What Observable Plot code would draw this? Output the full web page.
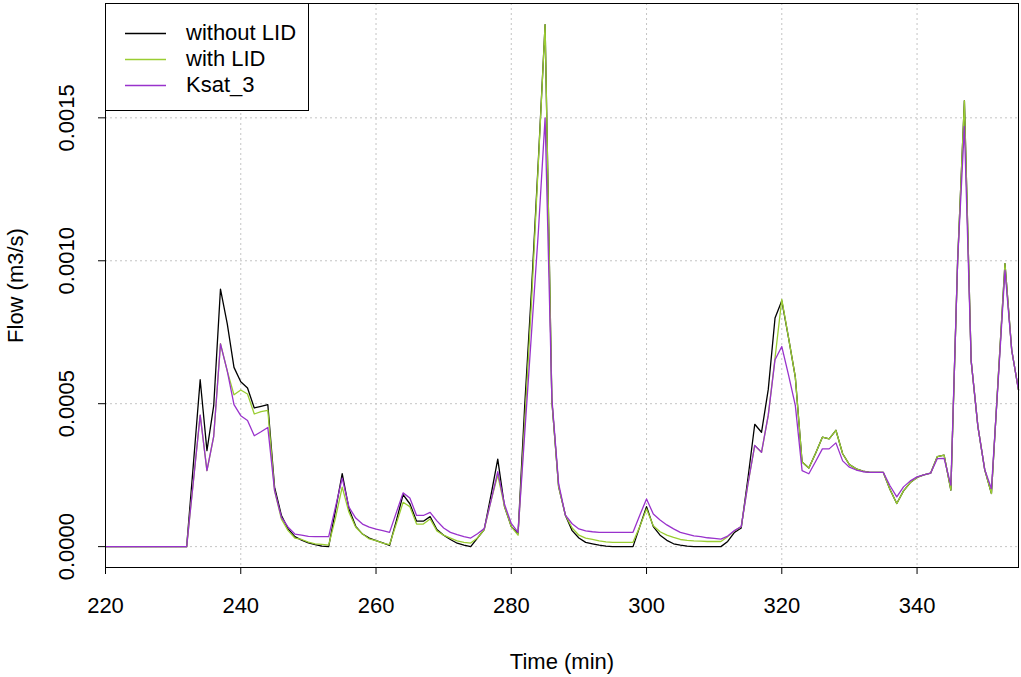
<!DOCTYPE html>
<html><head><meta charset="utf-8">
<script src="https://cdn.jsdelivr.net/npm/d3@7"></script>
<script src="https://cdn.jsdelivr.net/npm/@observablehq/plot@0.6"></script>
<style>
body{margin:0;background:#fff;font-family:"Liberation Sans",Arial,sans-serif;}
#wrap{position:relative;width:1021px;height:677px;}
#legend{position:absolute;left:105px;top:3px;width:204px;height:108px;border:1px solid #000;background:#fff;box-sizing:border-box;font-size:22px;}
.row{position:absolute;left:0;height:22px;width:100%;}
.row svg{position:absolute;left:19px;top:0;}
.row .lb{position:absolute;left:80px;top:0;line-height:22px;white-space:nowrap;color:#000;}
</style></head>
<body><div id="wrap"></div>
<script>
const time = [220,221,222,223,224,225,226,227,228,229,230,231,232,233,234,235,236,237,238,239,240,241,242,243,244,245,246,247,248,249,250,251,252,253,254,255,256,257,258,259,260,261,262,263,264,265,266,267,268,269,270,271,272,273,274,275,276,277,278,279,280,281,282,283,284,285,286,287,288,289,290,291,292,293,294,295,296,297,298,299,300,301,302,303,304,305,306,307,308,309,310,311,312,313,314,315,316,317,318,319,320,321,322,323,324,325,326,327,328,329,330,331,332,333,334,335,336,337,338,339,340,341,342,343,344,345,346,347,348,349,350,351,352,353,354,355];

const withoutLID = [0,0,0,0,0,0,0,0,0,0,0,0,0,
0.00029,0.000584,0.000336,0.000493,0.000901,0.00078,0.000627,0.000577,0.000555,0.000485,0.000491,0.000497,
0.000208,0.00011,0.000062,0.000035,0.000023,0.000013,0.000007,0.000002,0,
0.000126,0.000255,0.000132,0.000071,0.000044,0.00003,0.000021,0.000013,0.000004,
0.00009,0.000182,0.00015,0.000089,0.000089,0.000105,0.00006,0.00004,0.000025,0.000012,0.000005,0,
0.00003,0.00006,0.00018,0.000306,0.00014,0.00007,0.000045,
0.0005,0.0009,0.00135,0.001826,0.00051,0.00021,0.00011,0.000056,0.00003,0.000015,0.00001,0.000005,0.000002,0,0,0,0,
0.00007,0.00014,0.00007,0.00004,0.000022,0.00001,0.000005,0.000002,0,0,0,0,0,
0.000018,0.00005,0.000065,0.00024,0.000428,0.0004,0.00055,0.0008,0.00086,0.00073,0.000593,
0.000296,0.000275,0.000327,0.000383,0.000377,0.000407,0.000325,0.000287,0.000272,0.000264,0.00026,0.00026,0.00026,
0.0002,0.000151,0.000195,0.000224,0.000242,0.000251,0.000257,0.000315,0.00032,0.000198,
0.001,0.00156,0.00065,0.00042,0.00027,0.000186,0.00059,0.00099,0.000687,0.000548];

const withLID = [0,0,0,0,0,0,0,0,0,0,0,0,0,
0.00023,0.00046,0.000266,0.000386,0.00071,0.000615,0.000531,0.000548,0.000534,0.000464,0.000472,0.000477,
0.000196,0.000097,0.000056,0.00003,0.000025,0.000016,0.00001,0.000008,0.000005,
0.0001,0.000208,0.00012,0.000068,0.000044,0.000027,0.000021,0.000012,0.000007,
0.00008,0.000155,0.00014,0.000079,0.000079,0.000097,0.000055,0.00004,0.00003,0.00002,0.000015,0.0000125,
0.00003,0.00006,0.00016,0.00025,0.00014,0.00007,0.00004,
0.00044,0.00086,0.00134,0.001826,0.00051,0.00021,0.00011,0.000065,0.00004,0.00003,0.000025,0.00002,0.000017,0.000015,0.000015,0.000015,0.000015,
0.00007,0.000132,0.000073,0.000052,0.00004,0.000032,0.000025,0.000022,0.00002,0.000019,0.000018,0.000018,0.000018,
0.000035,0.000055,0.00007,0.00022,0.000354,0.00033,0.00046,0.00066,0.000865,0.00073,0.000593,
0.000296,0.000275,0.000327,0.000383,0.000377,0.000407,0.000325,0.000287,0.000272,0.000264,0.00026,0.00026,0.00026,
0.0002,0.000151,0.000195,0.000224,0.000242,0.000251,0.000257,0.000315,0.00032,0.000198,
0.001,0.00156,0.00065,0.00042,0.00027,0.000186,0.00059,0.00099,0.000687,0.000548];

const ksat3 = [0,0,0,0,0,0,0,0,0,0,0,0,0,
0.00023,0.00046,0.000266,0.000386,0.000709,0.000615,0.000497,0.000458,0.000441,0.000388,0.000402,0.000417,
0.000196,0.000103,0.000068,0.000044,0.00004,0.000036,0.000035,0.000035,0.000035,
0.000138,0.00024,0.000138,0.0001,0.000079,0.000068,0.000061,0.000056,0.00005,
0.000119,0.000188,0.00017,0.000109,0.000109,0.00012,0.00009,0.000065,0.00005,0.000042,0.000035,0.00003,
0.000045,0.000063,0.00016,0.000262,0.000148,0.000081,0.00005,
0.0004,0.00075,0.0011,0.0015,0.00052,0.00022,0.00011,0.00008,0.000062,0.000055,0.000052,0.00005,0.00005,0.00005,0.00005,0.00005,0.00005,
0.00011,0.000167,0.000114,0.000093,0.000076,0.000062,0.00005,0.000044,0.000038,0.000035,0.000031,0.000029,0.000026,
0.000037,0.000056,0.00007,0.00022,0.000354,0.00033,0.00046,0.000654,0.0007,0.0006,0.000494,
0.000266,0.000255,0.000298,0.000342,0.000342,0.000363,0.0003,0.000278,0.000268,0.000262,0.00026,0.00026,0.00026,
0.000213,0.000174,0.000209,0.00023,0.000244,0.000251,0.000257,0.000308,0.000309,0.000215,
0.001,0.00147,0.00065,0.00042,0.00027,0.000203,0.00058,0.000967,0.000687,0.000548];

const xTicks = [220,240,260,280,300,320,340];
const yTicks = [0,0.0005,0.0010,0.0015];
const seriesNames = ["without LID","with LID","Ksat_3"];
const seriesColors = ["#000000","#9ACD32","#9932CC"];
const seriesValues = [withoutLID, withLID, ksat3];

const rows = [];
seriesNames.forEach((name, s) => {
  time.forEach((t, i) => rows.push({series: name, time: t, flow: seriesValues[s][i]}));
});

const fmtY = d3.format(".4f");
const gridStyle = {stroke: "#c4c4c4", strokeOpacity: 1, strokeDasharray: "2,3", strokeWidth: 1};
const FS = 22;

const chart = Plot.plot({
  width: 1021, height: 677,
  marginLeft: 105, marginRight: 3, marginTop: 3, marginBottom: 110,
  style: {fontFamily: "'Liberation Sans', Arial, sans-serif", fontSize: FS + "px", background: "white", color: "black"},
  x: {domain: [220, 355]},
  y: {domain: [-0.000073, 0.0019]},
  color: {domain: seriesNames, range: seriesColors},
  marks: [
    Plot.gridX(xTicks, gridStyle),
    Plot.gridY(yTicks, gridStyle),
    Plot.line(rows, {x: "time", y: "flow", z: "series", stroke: "series", strokeWidth: 1.3}),
    Plot.frame({stroke: "black", strokeWidth: 1}),
    Plot.axisX(xTicks, {tickSize: 7, tickPadding: 23, tickFormat: d => String(d), label: null, fontSize: FS}),
    Plot.axisY(yTicks, {tickSize: 7, tickFormat: () => "", label: null}),
    Plot.text(yTicks, {y: d => d, text: d => fmtY(d), frameAnchor: "left", dx: -39, rotate: -90, textAnchor: "middle", lineAnchor: "middle", fontSize: FS}),
    Plot.text(["Time (min)"], {frameAnchor: "bottom", dy: 94, textAnchor: "middle", lineAnchor: "middle", fontSize: FS}),
    Plot.text(["Flow (m3/s)"], {frameAnchor: "left", dx: -90, rotate: -90, textAnchor: "middle", lineAnchor: "middle", fontSize: FS})
  ]
});
const wrap = document.getElementById("wrap");
wrap.appendChild(chart);

const legend = document.createElement("div");
legend.id = "legend";
const rowCenters = [29, 55, 81];
seriesNames.forEach((name, i) => {
  const r = document.createElement("div");
  r.className = "row";
  r.style.top = rowCenters[i] - 11 + "px";
  r.innerHTML = `<svg width="42" height="22"><line x1="0" x2="41" y1="11.5" y2="11.5" stroke="${seriesColors[i]}" stroke-width="1.3"/></svg>`;
  const lb = document.createElement("div");
  lb.className = "lb";
  lb.textContent = name;
  r.appendChild(lb);
  legend.appendChild(r);
});
wrap.appendChild(legend);
</script></body></html>
